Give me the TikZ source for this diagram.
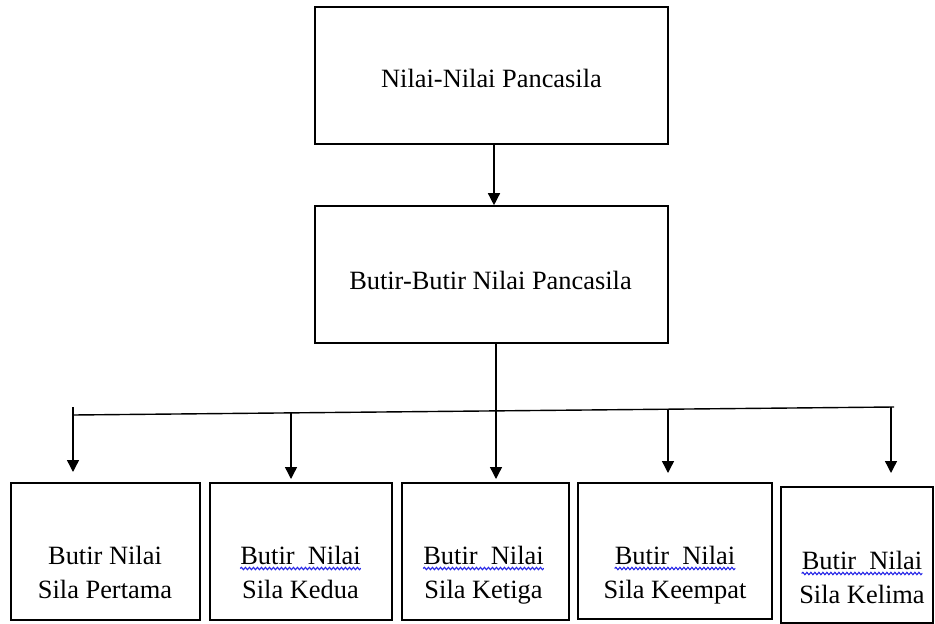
\documentclass[tikz,border=0pt]{standalone}
\usepackage{fontspec}
\setmainfont{Liberation Serif}
\usetikzlibrary{arrows.meta,decorations.pathmorphing,calc}
\begin{document}
\begin{tikzpicture}[x=1pt,y=-1pt,
  box/.style={draw, line width=1.6pt, rectangle, inner sep=0pt},
  txt/.style={font=\fontsize{26.4}{34}\selectfont, inner sep=0pt, anchor=base},
  link/.style={line width=1.4pt},
  arr/.style={link, -{Triangle[length=12pt,width=12pt]}},
  squiggle/.style={draw={rgb,255:red,40;green,40;blue,230}, line width=1.1pt, decorate,
    decoration={snake, amplitude=1.2pt, segment length=4pt}}]

\useasboundingbox (0,0) rectangle (935,624);

% main boxes
\node[box, minimum width=353pt, minimum height=137pt] (b1) at (491.5,75.5) {};
\node[box, minimum width=353pt, minimum height=137pt] (b2) at (491.5,274.5) {};
\node[txt] (t1) at (491.5,87) {Nilai-Nilai Pancasila};
\node[txt] (t2) at (490.5,289) {Butir-Butir Nilai Pancasila};

% five sila boxes
\node[box, minimum width=189pt, minimum height=137pt] (bA) at (105.5,551.5) {};
\node[box, minimum width=182pt, minimum height=137pt] (bB) at (301,551.5) {};
\node[box, minimum width=167pt, minimum height=137pt] (bC) at (485.5,551.5) {};
\node[box, minimum width=194pt, minimum height=136pt] (bD) at (675,551) {};
\node[box, minimum width=152pt, minimum height=136pt] (bE) at (857,555) {};

\node[txt] (tA1) at (105,564) {Butir Nilai};
\node[txt] (tA2) at (105,598) {Sila Pertama};
\node[txt] (tB1) at (300.5,564) {Butir\ \ Nilai};
\node[txt] (tB2) at (300.5,598) {Sila Kedua};
\node[txt] (tC1) at (483.5,564) {Butir\ \ Nilai};
\node[txt] (tC2) at (483.5,598) {Sila Ketiga};
\node[txt] (tD1) at (675,564) {Butir\ \ Nilai};
\node[txt] (tD2) at (675,598) {Sila Keempat};
\node[txt] (tE1) at (862,569) {Butir\ \ Nilai};
\node[txt] (tE2) at (862,603) {Sila Kelima};

% wavy underlines
\foreach \n in {tB1,tC1,tD1,tE1}
  \draw[squiggle] ($(\n.base west)+(0,4.5)$) -- ($(\n.base east)+(0,4.5)$);

% connectors
\draw[arr] ($(b1.south)+(2.5,0)$) -- ($(b2.north)+(2.5,0)$);

\coordinate (busL) at (73,415);
\coordinate (busR) at (894,407);
\draw[link] (busL) -- (busR);

\coordinate (sA) at (73,407);
\coordinate (sB) at (291,413);
\coordinate (sD) at (668,409);
\coordinate (sE) at (891,407);
\coordinate (tipA) at (73,472);
\coordinate (tipB) at (291,479);
\coordinate (tipC) at (496,479);
\coordinate (tipD) at (668,473);
\coordinate (tipE) at (891,473);

\draw[arr] ($(b2.south)+(4.5,0)$) -- (tipC);
\draw[arr] (sA) -- (tipA);
\draw[arr] (sB) -- (tipB);
\draw[arr] (sD) -- (tipD);
\draw[arr] (sE) -- (tipE);
\end{tikzpicture}
\end{document}
